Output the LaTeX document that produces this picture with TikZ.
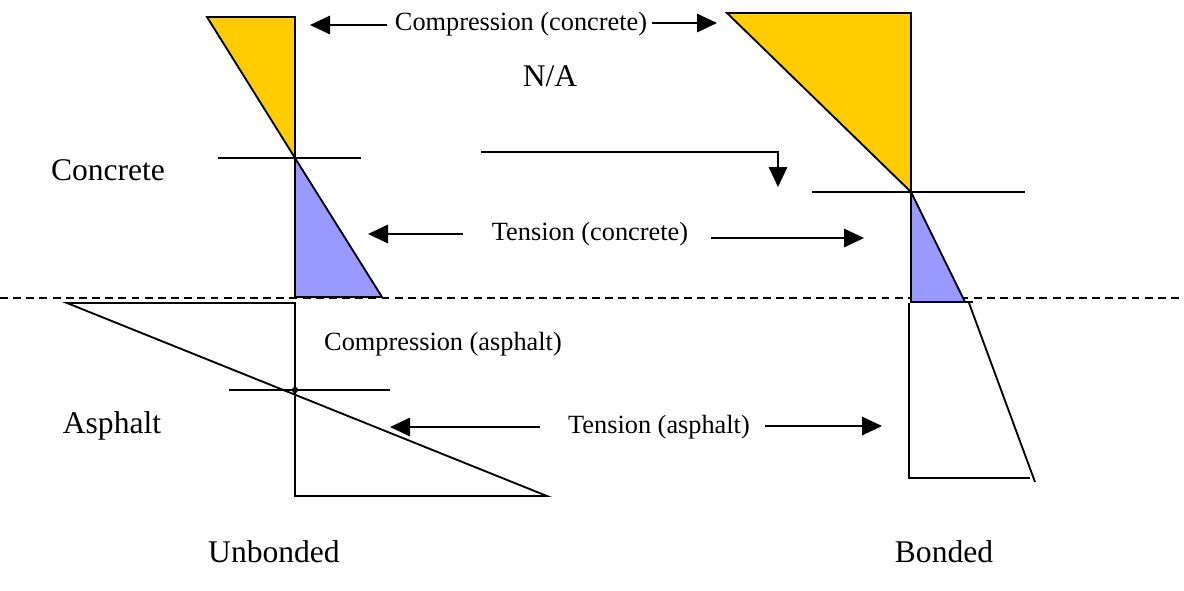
\documentclass[tikz,border=0pt]{standalone}
\usepackage{fontspec}
\setmainfont{Liberation Serif}
\usetikzlibrary{arrows.meta}
\definecolor{compyellow}{HTML}{FFCC00}
\definecolor{tensblue}{HTML}{9999FF}
\tikzset{
  ln/.style={line width=0.7pt, line join=miter},
  arr/.style={line width=0.7pt, -{Triangle[length=7.6pt,width=7pt]}},
  big/.style={font=\fontsize{12pt}{14pt}\selectfont, inner sep=0pt},
  small/.style={font=\fontsize{10pt}{12pt}\selectfont, inner sep=0pt},
  comp/.style={ln, fill=compyellow},
  tens/.style={ln, fill=tensblue},
}
\begin{document}
\begin{tikzpicture}[x=0.38pt,y=-0.38pt]
\useasboundingbox (0,0) rectangle (1184,590);
% dashed interface
\coordinate (dL) at (0,298);
\coordinate (dR) at (1184,298);
\draw[line width=0.7pt, dash pattern=on 3pt off 2pt] (dL) -- (dR);
% unbonded concrete
\draw[comp] (207,17) -- (295,17) -- (295,158) -- cycle;
\draw[tens] (295,158) -- (295,297) -- (382,297) -- cycle;
\coordinate (naL1) at (218,158);
\coordinate (naL2) at (361,158);
\draw[ln] (naL1) -- (naL2);
% unbonded asphalt
\draw[ln] (67,303) -- (295,303) -- (295,496) -- (547,496) -- cycle;
\coordinate (naA1) at (229,390);
\coordinate (naA2) at (390,390);
\draw[ln] (naA1) -- (naA2);
\fill (295,390) circle (1.2pt);
% bonded concrete
\draw[comp] (727,13) -- (911,13) -- (911,192) -- cycle;
\draw[tens] (911,192) -- (911,302) -- (965,302) -- cycle;
\coordinate (naB1) at (812,192);
\coordinate (naB2) at (1025,192);
\draw[ln] (naB1) -- (naB2);
\coordinate (bb1) at (911,302);
\coordinate (bb2) at (973,302);
\draw[line width=1pt] (bb1) -- (bb2);
% bonded asphalt
\draw[ln] (969,303) -- (1035,482);
\draw[ln] (909,303) -- (909,478) -- (1030,478);
% labels
\node[big] (concrete) at (108,170) {Concrete};
\node[big] (asphalt) at (112,426) {Asphalt};
\node[big] (unb) at (274,552) {Unbonded};
\node[big] (bon) at (944,552) {Bonded};
\node[big] (na) at (550,76) {N/A};
\node[small] (cc) at (521,24) {Compression (concrete)};
\node[small] (tc) at (590,234) {Tension (concrete)};
\node[small] (ca) at (443,344) {Compression (asphalt)};
\node[small] (ta) at (659,427) {Tension (asphalt)};
% arrows
\coordinate (ccL) at (310,25);
\coordinate (ccR) at (717,23);
\draw[arr] (387,25) -- (ccL);
\draw[arr] (652,23) -- (ccR);
\coordinate (nas) at (481,152);
\coordinate (nat) at (778,187);
\draw[arr] (nas) -| (nat);
\coordinate (tcL) at (368,234);
\coordinate (tcR) at (864,238);
\draw[arr] (463,234) -- (tcL);
\draw[arr] (711,238) -- (tcR);
\coordinate (taL) at (390,427);
\coordinate (taR) at (882,426);
\draw[arr] (540,427) -- (taL);
\draw[arr] (765,426) -- (taR);
\end{tikzpicture}
\end{document}
